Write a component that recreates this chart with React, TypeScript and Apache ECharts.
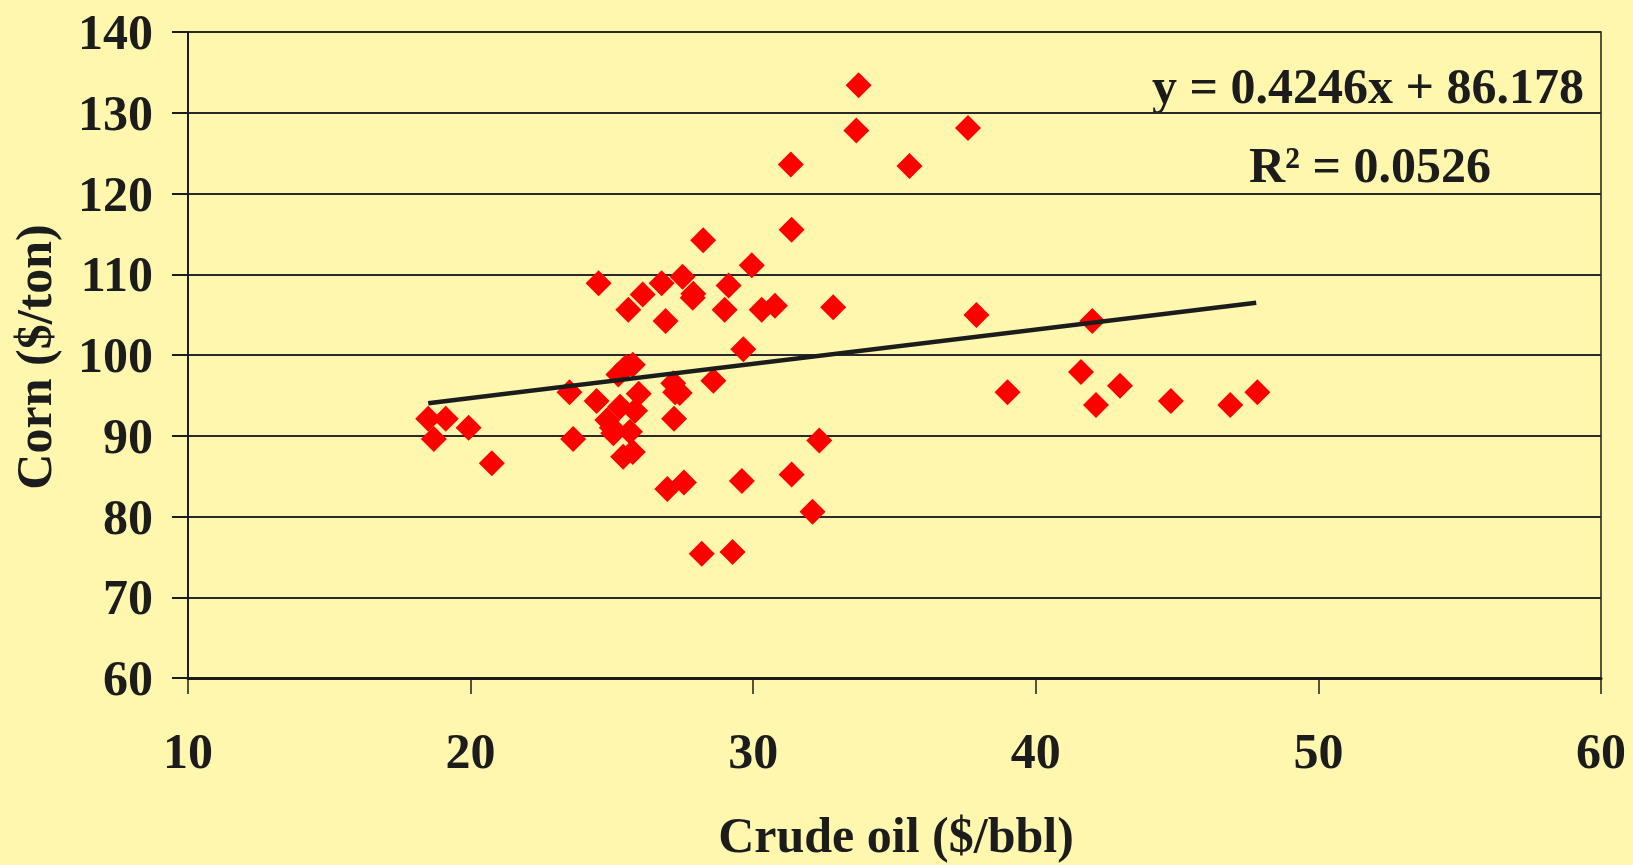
import React, { useEffect, useRef } from "react";
import * as echarts from "echarts";

const crudeOil: number[] = [
  18.5, 18.7, 19.12, 19.93, 20.75, 23.5, 23.63, 24.53, 24.46, 24.84,
  25.0, 25.05, 25.23, 25.29, 25.4, 25.5, 25.58, 25.64, 25.74, 25.74,
  25.82, 25.95, 26.09, 26.76, 26.9, 26.96, 27.17, 27.2, 27.24, 27.4,
  27.5, 27.55, 27.86, 27.88, 28.23, 28.18, 28.59, 28.99, 29.13, 29.27,
  29.6, 29.65, 29.95, 30.3, 30.77, 31.33, 31.36, 31.36, 32.1, 32.34,
  32.83, 33.73, 33.65, 35.53, 37.6, 37.9, 39.0, 41.6, 42.0, 42.13,
  42.98, 44.78, 46.88, 47.84,
];
const corn: number[] = [
  92.1, 89.6, 92.1, 91.0, 86.6, 95.4, 89.6, 108.9, 94.3, 91.95,
  91.0, 90.3, 97.6, 93.6, 87.4, 98.5, 105.6, 90.5, 88.0, 98.8,
  93.1, 95.2, 107.5, 108.9, 104.2, 83.4, 96.5, 92.1, 95.4, 95.3,
  109.7, 84.2, 107.1, 107.6, 114.2, 75.4, 96.8, 105.6, 108.6, 75.6,
  84.4, 100.7, 111.1, 105.6, 106.1, 123.6, 115.5, 85.2, 80.6, 89.4,
  105.9, 133.4, 127.8, 123.4, 128.1, 104.96, 95.4, 97.9, 104.2, 93.8,
  96.2, 94.3, 93.8, 95.4,
];
const trendX: number[] = [18.5, 47.8];
const trendY: number[] = [94.03, 106.47];

const xTitle = "Crude oil ($/bbl)";
const yTitle = "Corn ($/ton)";
const equationText = "y = 0.4246x + 86.178";
const r2Text = "R\u00B2 = 0.0526";

const FONT = "'Liberation Serif', 'Times New Roman', serif";
const INK = "#1c1c1c";

export default function App() {
  const ref = useRef<HTMLDivElement>(null);
  useEffect(() => {
    if (!ref.current) return;
    const chart = echarts.init(ref.current, undefined, { renderer: "svg" });
    const labelStyle = {
      fontFamily: FONT,
      fontWeight: "bold" as const,
      fontSize: 50,
      color: INK,
    };
    chart.setOption({
      animation: false,
      backgroundColor: "#FFF7AE",
      grid: {
        left: 188,
        right: 32,
        top: 32,
        bottom: 187,
        show: true,
        borderColor: INK,
        borderWidth: 1.5,
        backgroundColor: "transparent",
      },
      xAxis: {
        type: "value",
        min: 10,
        max: 60,
        interval: 10,
        axisLine: { show: true, onZero: false, lineStyle: { color: INK, width: 3 } },
        axisTick: { show: true, length: 16, lineStyle: { color: INK, width: 1.5 } },
        splitLine: { show: false },
        axisLabel: { ...labelStyle, margin: 48 },
      },
      yAxis: {
        type: "value",
        min: 60,
        max: 140,
        interval: 10,
        axisLine: { show: true, onZero: false, lineStyle: { color: INK, width: 2 } },
        axisTick: { show: true, length: 16, lineStyle: { color: INK, width: 2 } },
        splitLine: { show: true, lineStyle: { color: "#2a2a2a", width: 2 } },
        axisLabel: { ...labelStyle, margin: 35 },
      },
      series: [
        {
          type: "scatter",
          symbol: "diamond",
          symbolSize: 26,
          itemStyle: { color: "#FF0000", opacity: 1 },
          data: crudeOil.map((x, i) => [x, corn[i]]),
          z: 2,
        },
        {
          type: "line",
          showSymbol: false,
          symbol: "none",
          lineStyle: { color: INK, width: 4.5 },
          data: trendX.map((x, i) => [x, trendY[i]]),
          z: 3,
        },
      ],
      graphic: [
        {
          type: "text",
          x: 896,
          y: 835,
          style: {
            text: xTitle,
            font: `bold 50px ${FONT}`,
            fill: INK,
            align: "center",
            verticalAlign: "middle",
          },
        },
        {
          type: "text",
          x: 34,
          y: 357,
          rotation: Math.PI / 2,
          style: {
            text: yTitle,
            font: `bold 50px ${FONT}`,
            fill: INK,
            align: "center",
            verticalAlign: "middle",
          },
        },
        {
          type: "text",
          x: 1368,
          y: 86,
          style: {
            text: equationText,
            font: `bold 50px ${FONT}`,
            fill: INK,
            align: "center",
            verticalAlign: "middle",
          },
        },
        {
          type: "text",
          x: 1370,
          y: 165,
          style: {
            text: r2Text,
            font: `bold 50px ${FONT}`,
            fill: INK,
            align: "center",
            verticalAlign: "middle",
          },
        },
      ],
    });
    return () => chart.dispose();
  }, []);
  return (
    <div
      ref={ref}
      style={{ position: "absolute", left: 0, top: 0, width: 1633, height: 865 }}
    />
  );
}
